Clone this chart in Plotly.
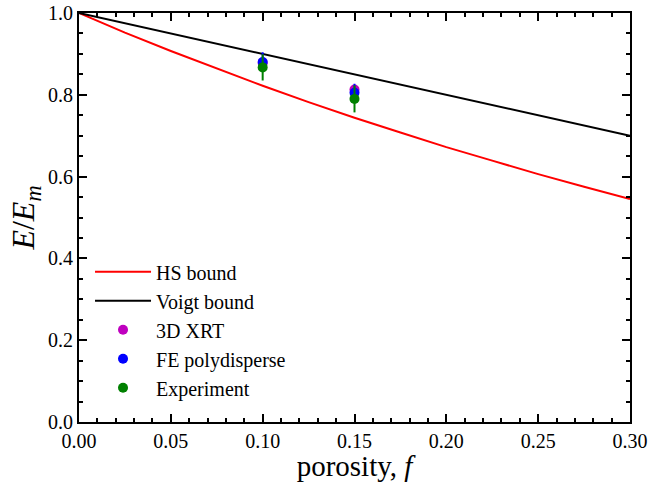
import plotly.graph_objects as go

# Data
hs_f = [0.0, 0.025, 0.05, 0.075, 0.10, 0.125, 0.15, 0.175, 0.20, 0.225, 0.25, 0.275, 0.30]
hs_e = [1.0, 0.952, 0.907, 0.864, 0.822, 0.782, 0.744, 0.708, 0.672, 0.639, 0.606, 0.575, 0.545]
voigt_f = [0.0, 0.30]
voigt_e = [1.0, 0.70]

xrt_f = [0.10, 0.15]
xrt_e = [0.878, 0.813]

fe_f = [0.10, 0.15]
fe_e = [0.880, 0.805]
fe_err = [0.024, 0.022]

exp_f = [0.10, 0.15]
exp_e = [0.867, 0.790]
exp_err = [0.032, 0.033]

FONT = "Liberation Serif"

fig = go.Figure()
fig.add_trace(go.Scatter(x=hs_f, y=hs_e, mode="lines", name="HS bound",
                         line=dict(color="#ff0000", width=2)))
fig.add_trace(go.Scatter(x=voigt_f, y=voigt_e, mode="lines", name="Voigt bound",
                         line=dict(color="#000000", width=2)))
fig.add_trace(go.Scatter(x=xrt_f, y=xrt_e, mode="markers", name="3D XRT",
                         marker=dict(color="#bf00bf", size=10)))
fig.add_trace(go.Scatter(x=fe_f, y=fe_e, mode="markers", name="FE polydisperse",
                         marker=dict(color="#0000ff", size=10),
                         error_y=dict(type="data", array=fe_err, color="#0000ff",
                                      thickness=2, width=0)))
fig.add_trace(go.Scatter(x=exp_f, y=exp_e, mode="markers", name="Experiment",
                         marker=dict(color="#008000", size=10),
                         error_y=dict(type="data", array=exp_err, color="#008000",
                                      thickness=2, width=0)))

axis_common = dict(
    showline=True, linecolor="black", linewidth=2, mirror="allticks",
    ticks="inside", ticklen=8, tickwidth=2, tickcolor="black",
    showgrid=False, zeroline=False, automargin=False,
    ticklabeloverflow="allow",
    tickfont=dict(family=FONT, size=20, color="black"),
)

fig.update_xaxes(range=[0, 0.30], dtick=0.05, tick0=0, tickformat=".2f",
                 minor=dict(ticks="inside", dtick=0.01, ticklen=4, tickwidth=2,
                            tickcolor="black"),
                 title=dict(text="porosity, <i>f</i>", font=dict(family=FONT, size=29, color="black"),
                            standoff=4),
                 **axis_common)
fig.update_yaxes(range=[0, 1.0], dtick=0.2, tick0=0, tickformat=".1f",
                 minor=dict(ticks="inside", dtick=0.05, ticklen=4, tickwidth=2,
                            tickcolor="black"),
                 title=dict(text="<i>E</i>/<i>E</i><sub><i>m</i></sub>",
                            font=dict(family=FONT, size=32, color="black"), standoff=4),
                 **axis_common)

fig.update_layout(
    width=651, height=482,
    margin=dict(l=79, r=21, t=13, b=60, autoexpand=False),
    paper_bgcolor="white", plot_bgcolor="white",
    font=dict(family=FONT, color="black"),
    legend=dict(x=0.02, y=0.415, xanchor="left", yanchor="top",
                bgcolor="rgba(0,0,0,0)", borderwidth=0,
                font=dict(family=FONT, size=20, color="black"),
                tracegroupgap=0, itemwidth=56),
)

# remove the page's default body margin so the figure fills the window exactly
fig.write_html("out.html", config={"displayModeBar": False},
               post_script="document.body.style.margin='0';")
